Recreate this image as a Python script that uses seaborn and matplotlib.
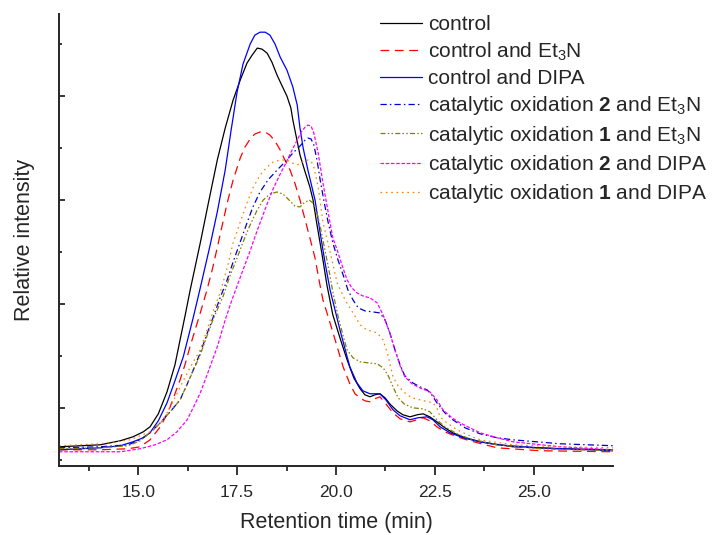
import numpy as np
import pandas as pd
import matplotlib
matplotlib.use("Agg")
import matplotlib.pyplot as plt
from matplotlib.ticker import MultipleLocator, NullFormatter, FuncFormatter
import seaborn as sns

# retention time (min) / relative intensity
t_control = [13.00, 14.04, 14.55, 14.87, 15.13, 15.30, 15.51, 15.73, 15.93, 16.06, 16.19, 16.31, 16.44,
             16.57, 16.77, 17.00, 17.20, 17.40, 17.58, 17.75, 17.88, 18.01, 18.13, 18.26, 18.38, 18.51,
             18.64, 18.76, 18.86, 18.91, 19.09, 19.22, 19.34, 19.42, 19.52, 19.65, 19.77, 19.92, 20.10,
             20.28, 20.45, 20.61, 20.73, 20.86, 20.98, 21.11, 21.24, 21.36, 21.54, 21.69, 21.87, 22.05,
             22.20, 22.37, 22.55, 22.75, 22.95, 23.26, 23.64, 24.47, 25.66, 27.00]
v_control = [0.625, 0.644, 0.683, 0.721, 0.769, 0.817, 0.942, 1.154, 1.413, 1.654, 1.894, 2.125, 2.356,
             2.587, 2.962, 3.385, 3.692, 3.962, 4.154, 4.317, 4.394, 4.462, 4.452, 4.413, 4.327, 4.202,
             4.096, 4.0, 3.885, 3.769, 3.433, 3.269, 3.125, 3.0, 2.760, 2.471, 2.183, 1.894, 1.673,
             1.462, 1.288, 1.183, 1.125, 1.106, 1.125, 1.135, 1.096, 1.038, 0.971, 0.933, 0.913, 0.933,
             0.942, 0.913, 0.865, 0.808, 0.760, 0.712, 0.673, 0.625, 0.606, 0.596]

t_et3n = [13.00, 14.04, 14.75, 15.05, 15.30, 15.56, 15.68, 15.81, 15.93, 16.06, 16.19, 16.31, 16.44,
          16.57, 16.74, 16.89, 17.07, 17.25, 17.40, 17.58, 17.70, 17.83, 17.95, 18.08, 18.21, 18.33,
          18.46, 18.59, 18.71, 18.84, 18.96, 19.09, 19.22, 19.34, 19.47, 19.57, 19.67, 19.85, 20.03,
          20.18, 20.35, 20.48, 20.61, 20.73, 20.86, 20.98, 21.11, 21.26, 21.44, 21.62, 21.87, 22.05,
          22.20, 22.37, 22.55, 22.75, 23.06, 23.38, 24.07, 25.15, 27.00]
v_et3n = [0.596, 0.596, 0.606, 0.625, 0.692, 0.817, 0.904, 1.010, 1.135, 1.269, 1.423, 1.587, 1.75,
          1.913, 2.135, 2.356, 2.663, 2.971, 3.192, 3.404, 3.510, 3.587, 3.635, 3.654, 3.654, 3.625,
          3.567, 3.481, 3.385, 3.288, 3.163, 3.0, 2.808, 2.635, 2.442, 2.231, 2.038, 1.817, 1.587,
          1.394, 1.231, 1.135, 1.096, 1.067, 1.058, 1.087, 1.106, 1.038, 0.952, 0.894, 0.865, 0.885,
          0.904, 0.875, 0.817, 0.769, 0.721, 0.683, 0.615, 0.587, 0.577]

t_dipa = [13.00, 14.04, 14.55, 14.87, 15.13, 15.30, 15.51, 15.73, 15.93, 16.14, 16.39, 16.57, 16.82,
          17.00, 17.20, 17.35, 17.50, 17.65, 17.83, 17.95, 18.08, 18.21, 18.33, 18.46, 18.59, 18.76,
          18.91, 19.02, 19.09, 19.17, 19.29, 19.47, 19.60, 19.72, 19.85, 20.10, 20.35, 20.53, 20.68,
          20.86, 21.01, 21.11, 21.26, 21.44, 21.62, 21.87, 22.07, 22.30, 22.45, 22.63, 22.88, 23.21,
          23.64, 24.07, 25.15, 27.00]
v_dipa = [0.596, 0.615, 0.635, 0.673, 0.712, 0.760, 0.875, 1.048, 1.260, 1.490, 1.865, 2.154, 2.567,
          2.885, 3.288, 3.673, 4.038, 4.308, 4.5, 4.587, 4.615, 4.615, 4.587, 4.5, 4.375, 4.25,
          4.087, 3.913, 3.692, 3.5, 3.288, 3.0, 2.683, 2.404, 2.135, 1.75, 1.394, 1.240, 1.163,
          1.135, 1.135, 1.135, 1.077, 0.981, 0.923, 0.885, 0.904, 0.913, 0.885, 0.817, 0.760, 0.712,
          0.673, 0.644, 0.615, 0.587]

t_ox2_et3n = [13.00, 14.04, 14.75, 15.05, 15.30, 15.56, 15.81, 16.06, 16.31, 16.57, 16.74, 16.89, 17.07,
              17.25, 17.40, 17.58, 17.75, 17.90, 18.08, 18.28, 18.51, 18.71, 18.91, 19.09, 19.22, 19.29,
              19.37, 19.44, 19.52, 19.60, 19.70, 19.80, 19.92, 20.05, 20.18, 20.30, 20.43, 20.56, 20.73,
              20.93, 21.11, 21.24, 21.36, 21.49, 21.62, 21.74, 21.94, 22.12, 22.30, 22.42, 22.55, 22.75,
              22.95, 23.26, 23.64, 24.07, 24.47, 25.66, 27.00]
v_ox2_et3n = [0.615, 0.625, 0.644, 0.692, 0.760, 0.856, 0.962, 1.077, 1.288, 1.529, 1.712, 1.865, 2.058,
              2.231, 2.404, 2.596, 2.779, 2.933, 3.077, 3.192, 3.288, 3.365, 3.452, 3.519, 3.577, 3.596,
              3.587, 3.529, 3.385, 3.192, 2.981, 2.788, 2.587, 2.423, 2.279, 2.135, 2.038, 1.962, 1.933,
              1.923, 1.913, 1.846, 1.721, 1.558, 1.413, 1.308, 1.240, 1.202, 1.173, 1.125, 1.048, 0.952,
              0.885, 0.808, 0.75, 0.712, 0.692, 0.654, 0.635]

t_ox1_et3n = [13.00, 14.04, 14.75, 15.05, 15.30, 15.56, 15.81, 16.06, 16.31, 16.57, 16.74, 16.89, 17.15,
              17.32, 17.50, 17.65, 17.83, 18.01, 18.16, 18.33, 18.51, 18.66, 18.84, 18.96, 19.09, 19.19,
              19.32, 19.42, 19.52, 19.62, 19.72, 19.82, 19.92, 20.05, 20.18, 20.28, 20.43, 20.61, 20.81,
              21.04, 21.19, 21.31, 21.44, 21.57, 21.72, 21.94, 22.20, 22.37, 22.55, 22.75, 23.06, 23.38,
              24.07, 25.15, 27.00]
v_ox1_et3n = [0.606, 0.615, 0.635, 0.683, 0.760, 0.856, 0.962, 1.077, 1.288, 1.510, 1.692, 1.846, 2.077,
              2.269, 2.442, 2.596, 2.760, 2.904, 3.0, 3.058, 3.077, 3.058, 2.990, 2.942, 2.933, 2.971,
              3.0, 2.971, 2.875, 2.712, 2.519, 2.327, 2.115, 1.885, 1.692, 1.558, 1.481, 1.442, 1.433,
              1.423, 1.385, 1.317, 1.202, 1.096, 1.038, 1.0, 0.990, 0.962, 0.885, 0.817, 0.75, 0.702,
              0.644, 0.606, 0.587]

t_ox2_dipa = [13.00, 14.04, 14.55, 15.05, 15.43, 15.73, 15.98, 16.24, 16.39, 16.57, 16.77, 17.00, 17.20,
              17.37, 17.50, 17.65, 17.83, 17.95, 18.08, 18.26, 18.41, 18.59, 18.76, 18.89, 19.02, 19.12,
              19.22, 19.29, 19.37, 19.44, 19.55, 19.67, 19.77, 19.85, 19.92, 20.03, 20.15, 20.28, 20.40,
              20.53, 20.68, 20.86, 21.04, 21.19, 21.36, 21.49, 21.62, 21.74, 21.92, 22.12, 22.37, 22.55,
              22.70, 22.93, 23.13, 23.38, 23.64, 24.07, 24.47, 25.66, 27.00]
v_ox2_dipa = [0.577, 0.577, 0.577, 0.606, 0.644, 0.692, 0.769, 0.885, 1.0, 1.144, 1.346, 1.587, 1.846,
              2.038, 2.173, 2.327, 2.510, 2.644, 2.779, 2.962, 3.106, 3.25, 3.375, 3.481, 3.577, 3.654,
              3.702, 3.721, 3.712, 3.644, 3.452, 3.163, 2.952, 2.779, 2.635, 2.519, 2.375, 2.231, 2.154,
              2.106, 2.077, 2.058, 2.010, 1.894, 1.721, 1.558, 1.404, 1.298, 1.231, 1.192, 1.154, 1.077,
              0.981, 0.904, 0.856, 0.808, 0.760, 0.712, 0.673, 0.625, 0.596]

t_ox1_dipa = [13.00, 14.04, 14.80, 15.30, 15.56, 15.73, 15.93, 16.14, 16.31, 16.57, 16.74, 16.89, 17.07,
              17.25, 17.40, 17.58, 17.75, 17.90, 18.08, 18.26, 18.41, 18.59, 18.76, 18.89, 19.02, 19.14,
              19.27, 19.37, 19.44, 19.55, 19.67, 19.85, 20.03, 20.23, 20.43, 20.61, 20.78, 21.04, 21.19,
              21.31, 21.44, 21.57, 21.74, 21.92, 22.12, 22.45, 22.55, 22.63, 22.80, 23.06, 23.38, 23.64,
              24.47, 25.66, 27.00]
v_ox1_dipa = [0.635, 0.654, 0.692, 0.769, 0.846, 0.952, 1.096, 1.260, 1.385, 1.558, 1.75, 1.923, 2.106,
              2.346, 2.587, 2.788, 2.971, 3.115, 3.240, 3.317, 3.365, 3.385, 3.385, 3.356, 3.337, 3.365,
              3.385, 3.375, 3.317, 3.125, 2.788, 2.5, 2.202, 2.038, 1.913, 1.798, 1.75, 1.721, 1.654,
              1.510, 1.298, 1.212, 1.144, 1.096, 1.077, 1.048, 1.0, 0.913, 0.856, 0.788, 0.731, 0.692,
              0.644, 0.625, 0.615]

labels = ["control",
          "control and Et$_3$N",
          "control and DIPA",
          "catalytic oxidation $\\mathbf{2}$ and Et$_3$N",
          "catalytic oxidation $\\mathbf{1}$ and Et$_3$N",
          "catalytic oxidation $\\mathbf{2}$ and DIPA",
          "catalytic oxidation $\\mathbf{1}$ and DIPA"]

series = [(t_control, v_control), (t_et3n, v_et3n), (t_dipa, v_dipa),
          (t_ox2_et3n, v_ox2_et3n), (t_ox1_et3n, v_ox1_et3n),
          (t_ox2_dipa, v_ox2_dipa), (t_ox1_dipa, v_ox1_dipa)]

colors = ["#000000", "#ff0000", "#0000ff", "#0000cc", "#808000", "#ff00ff", "#ff8000"]
styles = ["-", (0, (7, 4.5)), "-", (0, (5, 2.5, 1.2, 2.5)), (0, (4, 1.8, 1.2, 1.8, 1.2, 1.8)),
          (0, (2.8, 1.4)), (0, (1.3, 3))]

sns.set_style("ticks")
plt.rcParams['font.family'] = ['Liberation Sans', 'DejaVu Sans']
plt.rcParams['mathtext.fontset'] = 'custom'
plt.rcParams['mathtext.rm'] = 'Liberation Sans'
plt.rcParams['mathtext.bf'] = 'Liberation Sans:bold'

fig = plt.figure(figsize=(7.17, 5.35), dpi=100)
ax = fig.add_axes([59 / 717, 1 - 466 / 535, 554 / 717, 452 / 535])

for (t, v), lab, c, ls in zip(series, labels, colors, styles):
    df = pd.DataFrame({"t": t, "v": v})
    sns.lineplot(data=df, x="t", y="v", ax=ax, color=c, linestyle=ls, linewidth=0.9,
                 label=lab, sort=False, estimator=None)

ax.set_xlim(13, 27)
ax.set_ylim(0.44, 4.79)
ax.xaxis.set_major_locator(MultipleLocator(2.5))
ax.xaxis.set_minor_locator(MultipleLocator(1.25))
ax.yaxis.set_major_locator(MultipleLocator(1))
ax.yaxis.set_minor_locator(MultipleLocator(0.5))
ax.yaxis.set_major_formatter(NullFormatter())
ax.xaxis.set_major_formatter(FuncFormatter(lambda x, p: f"{x:.1f}"))

sns.despine(ax=ax)
for s in ["left", "bottom"]:
    ax.spines[s].set_linewidth(1.4)
ax.tick_params(axis="x", which="major", direction="out", length=6.5, width=1.3, labelsize=12.5, pad=7)
ax.tick_params(axis="x", which="minor", direction="out", length=3.5, width=1.3)
ax.tick_params(axis="y", which="major", direction="in", length=4.5, width=1.3)
ax.tick_params(axis="y", which="minor", direction="in", length=1.8, width=1.3)

ax.set_xlabel("Retention time (min)", fontsize=15.5, labelpad=9)
ax.set_ylabel("Relative intensity", fontsize=15.5, labelpad=14)

ax.legend(loc="upper left", bbox_to_anchor=(380 / 717, 1 - 15 / 535), bbox_transform=fig.transFigure,
          frameon=False, fontsize=15, handlelength=2.0, handletextpad=0.3,
          labelspacing=0.3, borderpad=0, borderaxespad=0)

fig.savefig("out.png", dpi=100)
